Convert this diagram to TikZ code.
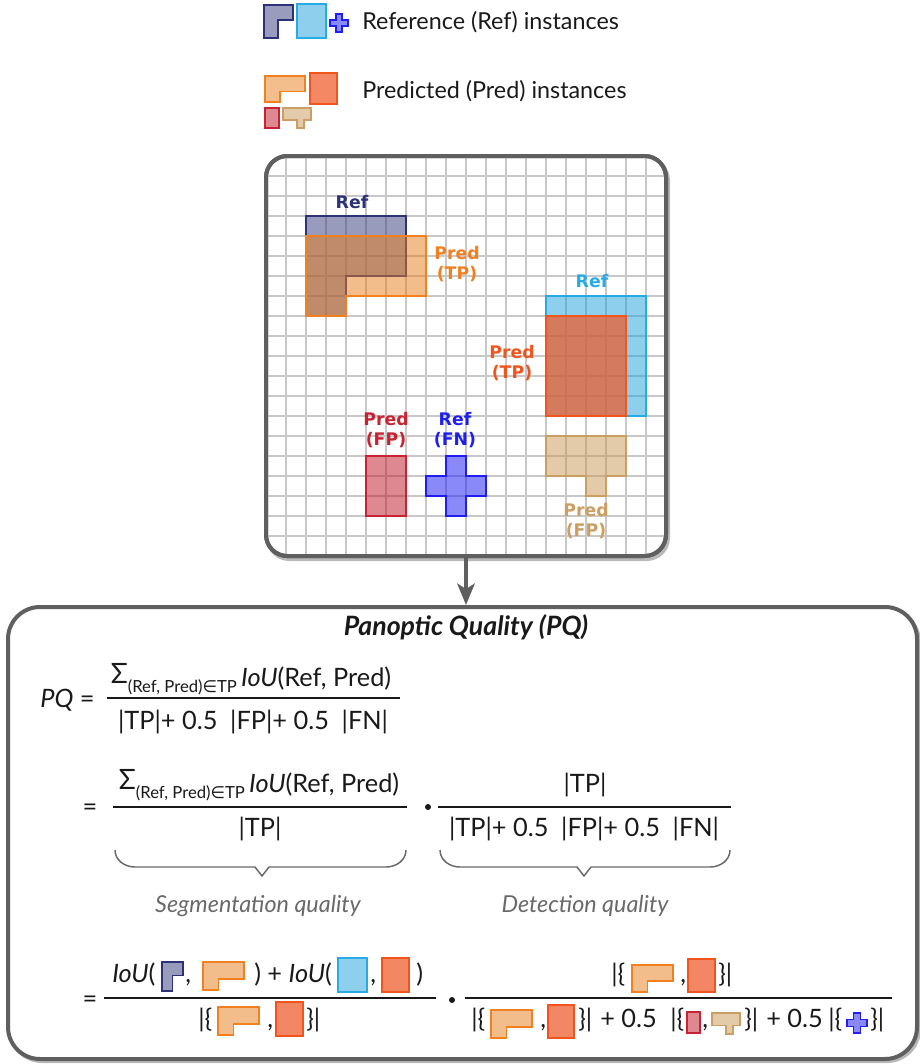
\documentclass[tikz,border=0pt]{standalone}
\usepackage{fontspec}
\setmainfont{Lato}
\newfontfamily\dvs{DejaVu Sans}
\usetikzlibrary{arrows.meta}
\definecolor{navyC}{RGB}{53,57,125}
\definecolor{navyD}{RGB}{45,50,120}
\definecolor{orC}{RGB}{231,125,25}
\definecolor{orD}{RGB}{240,128,32}
\definecolor{blC}{RGB}{30,160,220}
\definecolor{blD}{RGB}{40,170,228}
\definecolor{orrC}{RGB}{240,90,40}
\definecolor{orrD}{RGB}{240,85,30}
\definecolor{redC}{RGB}{190,20,35}
\definecolor{redD}{RGB}{200,35,50}
\definecolor{tanC}{RGB}{200,150,85}
\definecolor{tanD}{RGB}{205,158,98}
\definecolor{crC}{RGB}{20,20,245}
\definecolor{crD}{RGB}{30,30,240}
\definecolor{boxC}{RGB}{95,95,95}
\definecolor{shadC}{RGB}{185,185,185}
\definecolor{gridC}{RGB}{200,200,200}
\definecolor{txtC}{RGB}{25,25,25}
\definecolor{qualC}{RGB}{105,105,105}
\newcommand{\Lshape}[7]{\path[#1] (#2,#3) -- ++(#4,0) -- ++(0,{#7*#5}) -- ++({-(1-#6)*#4},0) -- ++(0,{(1-#7)*#5}) -- ++({-#6*#4},0) -- cycle;}
\newcommand{\Tshape}[6]{\path[#1] (#2,#3) -- ++(#4,0) -- ++(0,{#6*#5}) -- ++({-0.25*#4},0) -- ++(0,{(1-#6)*#5}) -- ++({-0.25*#4},0) -- ++(0,{-(1-#6)*#5}) -- ++({-0.5*#4},0) -- cycle;}
\newcommand{\Crossshape}[5]{\path[#1] ({#2+#4/3},#3) -- ++({#4/3},0) -- ++(0,{#5/3}) -- ++({#4/3},0) -- ++(0,{#5/3}) -- ++({-#4/3},0) -- ++(0,{#5/3}) -- ++({-#4/3},0) -- ++(0,{-#5/3}) -- ++({-#4/3},0) -- ++(0,{-#5/3}) -- ++({#4/3},0) -- cycle;}
\newcommand{\mySum}{\raisebox{2pt}{\fontsize{21}{22}\selectfont Σ}\raisebox{-4.5pt}{\fontsize{12.5}{13}\selectfont (Ref, Pred){\dvs ∈}TP}}
\tikzset{
  shp/.style={line width=1.5pt, line join=miter, fill opacity=0.5},
  navysh/.style={shp, fill=navyC, draw=navyD},
  orsh/.style={shp, fill=orC, draw=orD},
  bluesh/.style={shp, fill=blC, draw=blD},
  orredsh/.style={shp, fill=orrC, draw=orrD, fill opacity=0.72},
  redsh/.style={shp, fill=redC, draw=redD},
  tansh/.style={shp, fill=tanC, draw=tanD},
  crosssh/.style={shp, fill=crC, draw=crD},
  ic/.style={line width=1.1pt},
  gridline/.style={draw=gridC, line width=0.8pt},
  panel/.style={draw=boxC, line width=3pt, fill=white, inner sep=0pt},
  shadowst/.style={draw=shadC, line width=3pt},
  glab/.style={font=\dvs\bfseries\fontsize{13}{15}\selectfont, align=center, inner sep=0pt},
  ftxt/.style={inner sep=0pt, font=\fontsize{19}{22}\selectfont, text=txtC},
  legtxt/.style={inner sep=0pt, font=\fontsize{17.5}{20}\selectfont, text=txtC},
  qlab/.style={inner sep=0pt, font=\itshape\fontsize{17.5}{20}\selectfont, text=qualC},
  bracest/.style={draw=qualC, line width=1.1pt, line join=miter},
  barst/.style={draw=txtC, line width=1.1pt},
  dotst/.style={circle, fill=txtC, inner sep=0pt, minimum size=4.5pt},
  arrowst/.style={draw=boxC, line width=3pt, -{Stealth[length=16pt, width=13pt, inset=4pt]}}
}
\begin{document}
\begin{tikzpicture}[x=0.75pt,y=-0.75pt]
\useasboundingbox (0,0) rectangle (920,1064);
% ---------- legend ----------
\Lshape{navysh,line width=1.3pt}{264}{5}{29}{33}{0.49}{0.46}
\path[bluesh,line width=1.3pt] (297,4) rectangle ++(29,34);
\Crossshape{crosssh,line width=1.1pt}{330}{14}{18}{18}
\node[legtxt, anchor=base west] (legref) at (362,29) {Reference (Ref) instances};
\Lshape{orsh,line width=1.3pt}{265}{76}{40}{26}{0.375}{0.6}
\path[orredsh,line width=1.3pt] (310,73) rectangle ++(27,31);
\path[redsh,line width=1.3pt] (265,108) rectangle ++(14,20);
\Tshape{tansh,line width=1.3pt}{283}{108}{28}{20}{0.6}
\node[legtxt, anchor=base west] (legpred) at (362,98) {Predicted (Pred) instances};
% ---------- grid panel ----------
\draw[shadowst, rounded corners=16pt] (268,159) rectangle (668,559);
\node[panel, minimum width=300pt, minimum height=300pt, rounded corners=16pt] (gridbox) at (466,356) {};
\begin{scope}
  \clip[rounded corners=16pt] (266,156) rectangle (666,556);
  \foreach \i in {1,...,19} {
    \draw[gridline] ({266+20*\i},156) -- ({266+20*\i},556);
    \draw[gridline] (266,{156+20*\i}) -- (666,{156+20*\i});
  }
\end{scope}
\Lshape{navysh}{306}{216}{100}{100}{0.4}{0.6}
\Lshape{orsh}{306}{236}{120}{80}{1/3}{0.75}
\path[bluesh] (546,296) rectangle (646,416);
\path[orredsh] (546,316) rectangle (626,416);
\Tshape{tansh}{546}{436}{80}{60}{0.6667}
\path[redsh] (366,456) rectangle (406,516);
\Crossshape{crosssh}{426}{456}{60}{60}
\draw[draw=boxC, line width=3pt, rounded corners=16pt] (266,156) rectangle (666,556);
\node[glab, text=navyD] (l1) at (352,202) {Ref};
\node[glab, text=orD] (l2) at (457,264) {Pred\\(TP)};
\node[glab, text=blD] (l3) at (592,281) {Ref};
\node[glab, text=orrD] (l4) at (512,363) {Pred\\(TP)};
\node[glab, text=redD] (l5) at (386,430) {Pred\\(FP)};
\node[glab, text=crD] (l6) at (455,430) {Ref\\(FN)};
\node[glab, text=tanD] (l7) at (586,521) {Pred\\(FP)};
% ---------- PQ panel ----------
\draw[shadowst, rounded corners=24pt] (10,610) rectangle (919,1061);
\node[panel, minimum width=681.75pt, minimum height=339pt, rounded corners=24pt] (pqbox) at (462.5,833) {};
\draw[arrowst] (gridbox.south) -- (gridbox.south |- pqbox.north);
\node[inner sep=0pt, font=\bfseries\itshape\fontsize{20}{22}\selectfont, text=txtC] (title) at (466,627) {Panoptic Quality (PQ)};
% line 1
\node[ftxt, anchor=base west] (pq) at (40,707) {\textit{PQ} =};
\node[ftxt, anchor=base] (n1) at (251,686) {\mySum\,\textit{IoU}(Ref, Pred)};
\draw[barst] (107,698) -- (400,698);
\node[ftxt, anchor=base] (d1) at (253,729) {|TP|+ 0.5\enspace|FP|+ 0.5\enspace|FN|};
% line 2
\node[ftxt, anchor=base] (eq2) at (90,815) {=};
\node[ftxt, anchor=base] (n2) at (259,792) {\mySum\,\textit{IoU}(Ref, Pred)};
\draw[barst] (113,807) -- (407,807);
\node[ftxt, anchor=base] (d2) at (260,836) {|TP|};
\node[dotst] (dot1) at (428,807) {};
\node[ftxt, anchor=base] (n3) at (585,792) {|TP|};
\draw[barst] (438,807) -- (731,807);
\node[ftxt, anchor=base] (d3) at (584,836) {|TP|+ 0.5\enspace|FP|+ 0.5\enspace|FN|};
\draw[bracest] (115,850) to[out=-90,in=180] (135,867) -- (255,867) -- (262,876) -- (269,867) -- (386,867) to[out=0,in=-90] (406,850);
\draw[bracest] (440,850) to[out=-90,in=180] (460,867) -- (577,867) -- (584,876) -- (591,867) -- (710,867) to[out=0,in=-90] (730,850);
\node[qlab] (segq) at (258,906) {Segmentation quality};
\node[qlab] (detq) at (585,906) {Detection quality};
% line 3
\node[ftxt, anchor=base] (eq3) at (90,1007) {=};
\node[ftxt, anchor=base west] (a1) at (112,982) {\textit{IoU}(};
\Lshape{navysh,ic}{162}{962}{21}{29}{0.49}{0.46}
\node[ftxt, anchor=base west] (a2) at (185,982) {,};
\Lshape{orsh,ic}{203}{962}{41}{28}{0.375}{0.6}
\node[ftxt, anchor=base west] (a3) at (254,982) {) + \textit{IoU}(};
\path[bluesh,ic] (338,958) rectangle ++(29,34);
\node[ftxt, anchor=base west] (a4) at (370,982) {,};
\path[orredsh,ic] (382,958) rectangle ++(27,34);
\node[ftxt, anchor=base west] (a5) at (416,982) {)};
\draw[barst] (104,998) -- (436,998);
\node[ftxt, anchor=base west] (b1) at (198,1027) {|\{};
\Lshape{orsh,ic}{218}{1007}{41}{28}{0.375}{0.6}
\node[ftxt, anchor=base west] (b2) at (267,1027) {,};
\path[orredsh,ic] (276,1002) rectangle ++(27,34);
\node[ftxt, anchor=base west] (b3) at (306,1027) {\}|};
\node[dotst] (dot2) at (452,1000) {};
\draw[barst] (465,998) -- (892,998);
\node[ftxt, anchor=base west] (c1) at (611,982) {|\{};
\Lshape{orsh,ic}{632}{965}{41}{27}{0.375}{0.6}
\node[ftxt, anchor=base west] (c2) at (680,982) {,};
\path[orredsh,ic] (688,959) rectangle ++(27,33);
\node[ftxt, anchor=base west] (c3) at (718,982) {\}|};
\node[ftxt, anchor=base west] (e1) at (471,1027) {|\{};
\Lshape{orsh,ic}{491}{1010}{41}{28}{0.375}{0.6}
\node[ftxt, anchor=base west] (e2) at (540,1027) {,};
\path[orredsh,ic] (548,1005) rectangle ++(26,33);
\node[ftxt, anchor=base west] (e3) at (578,1027) {\}|};
\node[ftxt, anchor=base west] (e4) at (600,1027) {+ 0.5};
\node[ftxt, anchor=base west] (e5) at (670,1027) {|\{};
\path[redsh,ic] (687,1012) rectangle ++(13,21);
\node[ftxt, anchor=base west] (e6) at (702,1027) {,};
\Tshape{tansh,ic}{712}{1013}{28}{21}{0.6}
\node[ftxt, anchor=base west] (e7) at (744,1027) {\}|};
\node[ftxt, anchor=base west] (e8) at (766,1027) {+ 0.5};
\node[ftxt, anchor=base west] (e9) at (828,1027) {|\{};
\Crossshape{crosssh,ic}{847}{1013}{20}{20}
\node[ftxt, anchor=base west] (e10) at (870,1027) {\}|};
\end{tikzpicture}
\end{document}
